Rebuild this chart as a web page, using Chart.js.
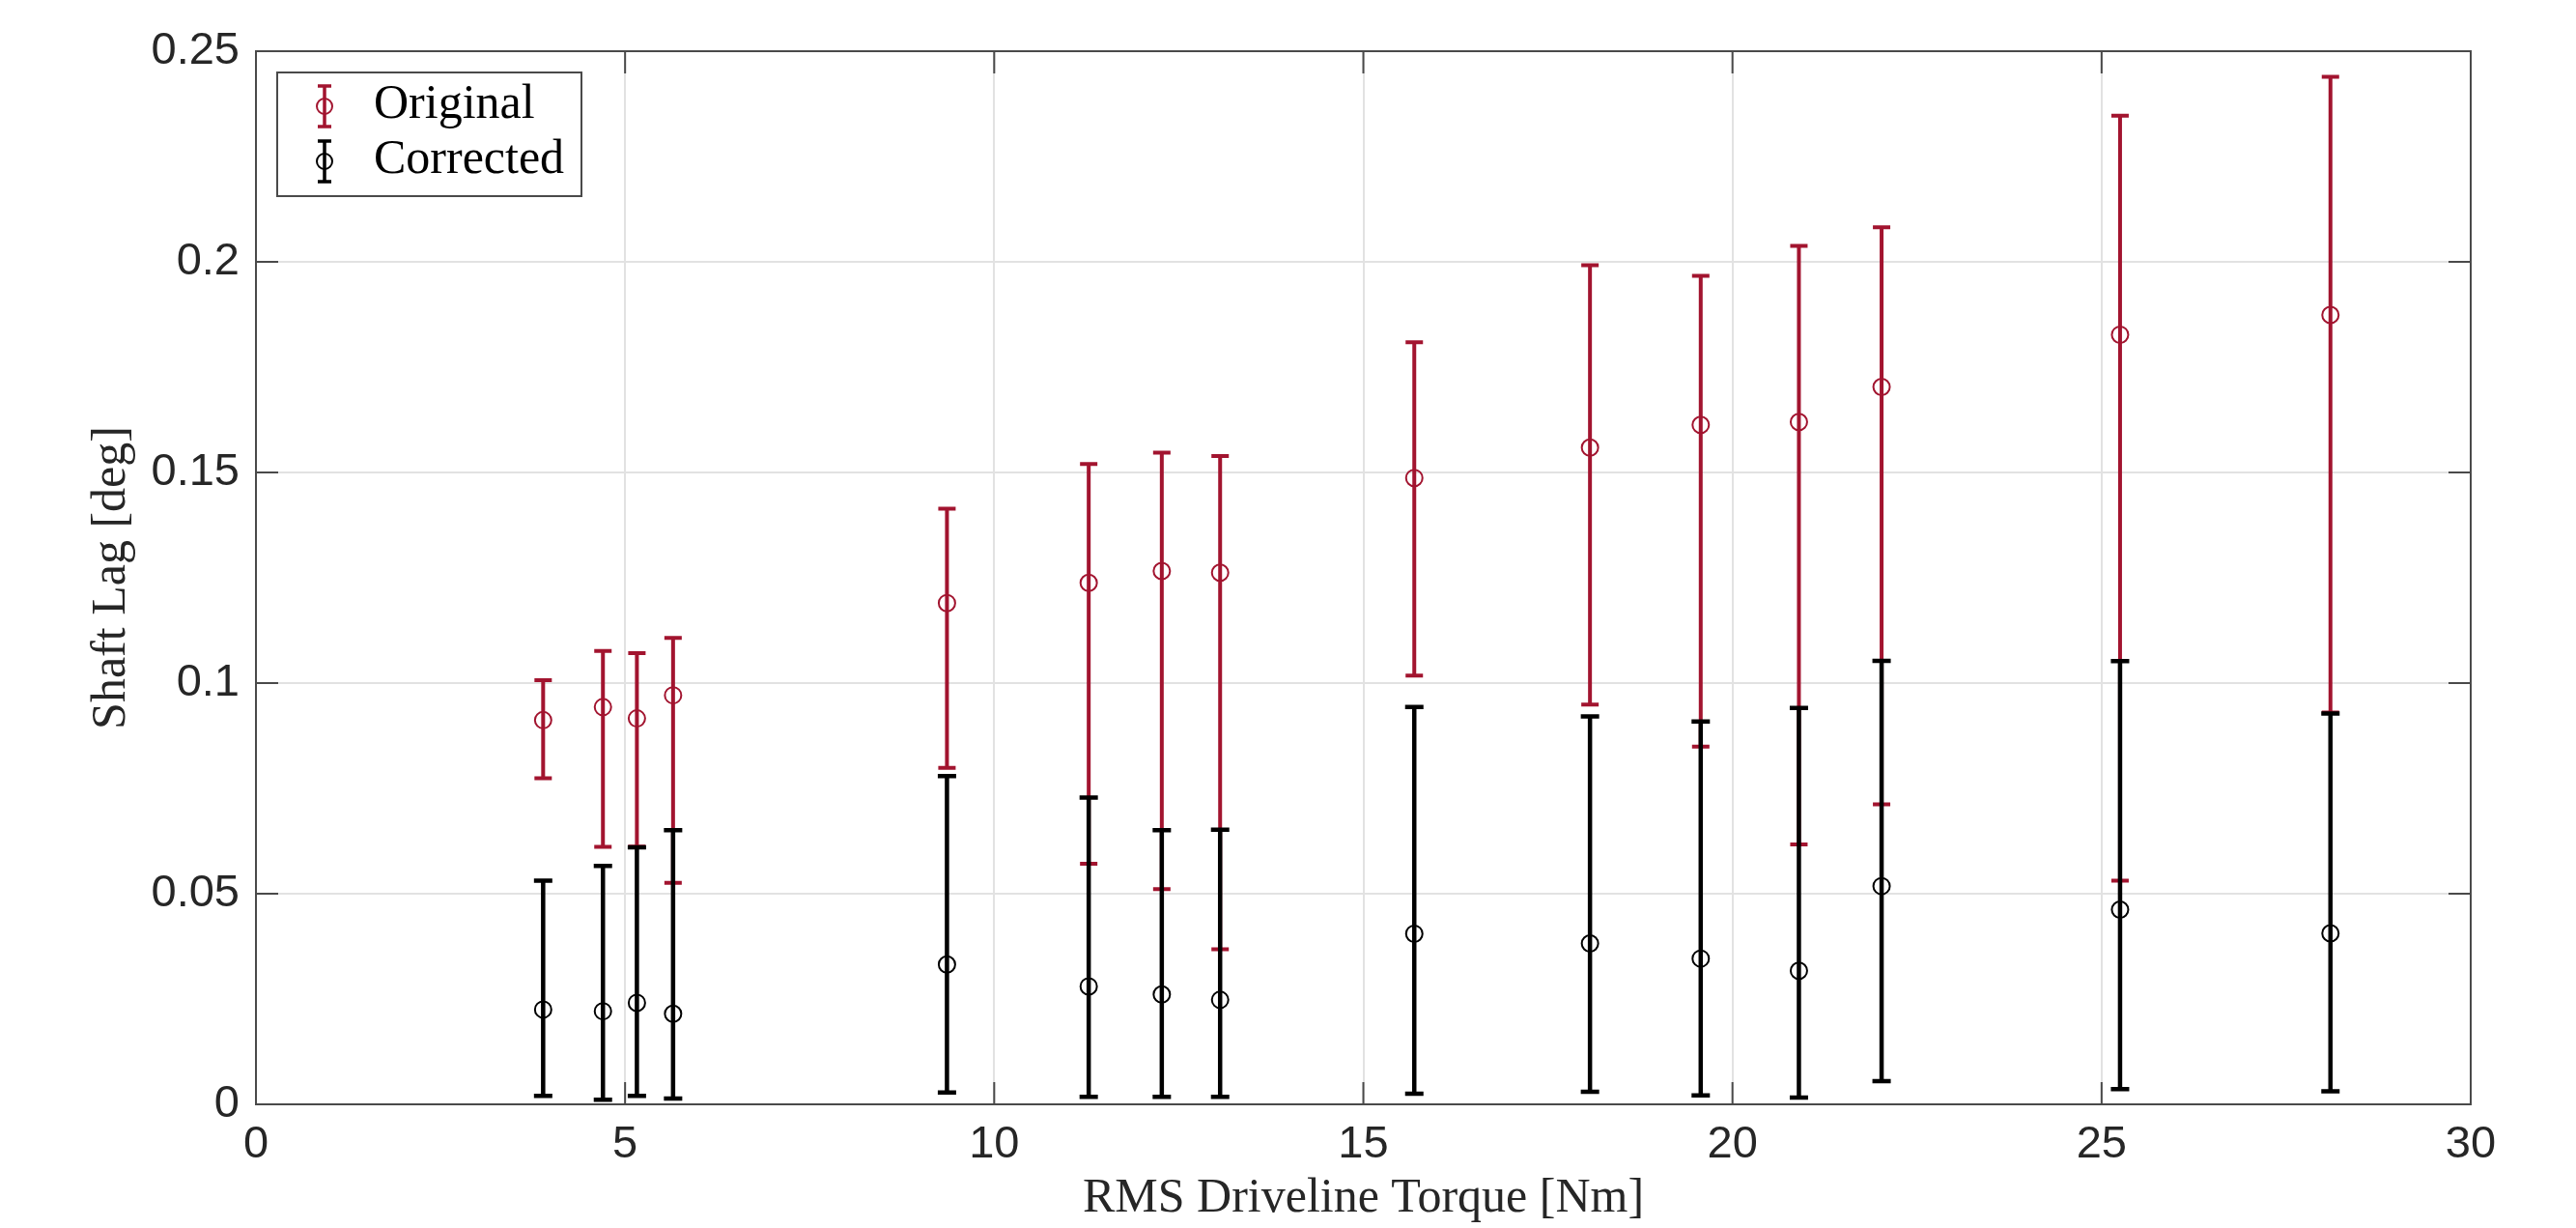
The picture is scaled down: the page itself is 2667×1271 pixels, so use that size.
<!DOCTYPE html>
<html>
<head>
<meta charset="utf-8">
<title>Shaft Lag vs RMS Driveline Torque</title>
<script src="https://cdn.jsdelivr.net/npm/chart.js@4.4.1/dist/chart.umd.min.js"></script>
<style>
  html, body { margin: 0; padding: 0; background: #fff; }
  #wrap { width: 2667px; height: 1271px; }
</style>
</head>
<body>
<div id="wrap"><canvas id="lagChart" width="2667" height="1271"></canvas></div>
<script>
// data
const torque = [3.89, 4.70, 5.16, 5.65, 9.36, 11.28, 12.27, 13.06, 15.69, 18.07, 19.57, 20.90, 22.02, 25.25, 28.10];

const origMean = [0.0912, 0.0943, 0.0916, 0.0971, 0.1190, 0.1238, 0.1266, 0.1262, 0.1487, 0.1559, 0.1613, 0.1620, 0.1703, 0.1827, 0.1874];
const origLow  = [0.0774, 0.0611, 0.0612, 0.0526, 0.0799, 0.0571, 0.0511, 0.0368, 0.1018, 0.0949, 0.0849, 0.0617, 0.0712, 0.0531, 0.0930];
const origHigh = [0.1007, 0.1076, 0.1071, 0.1107, 0.1414, 0.1520, 0.1547, 0.1539, 0.1809, 0.1992, 0.1967, 0.2038, 0.2082, 0.2347, 0.2439];

const corrMean = [0.0225, 0.0221, 0.0241, 0.0215, 0.0332, 0.0280, 0.0261, 0.0248, 0.0405, 0.0382, 0.0346, 0.0317, 0.0518, 0.0462, 0.0406];
const corrLow  = [0.0020, 0.0011, 0.0020, 0.0014, 0.0028, 0.0018, 0.0018, 0.0018, 0.0025, 0.0030, 0.0021, 0.0016, 0.0055, 0.0036, 0.0031];
const corrHigh = [0.0531, 0.0566, 0.0610, 0.0651, 0.0779, 0.0728, 0.0651, 0.0652, 0.0943, 0.0921, 0.0909, 0.0941, 0.1053, 0.1052, 0.0928];

const seriesNames = ["Original", "Corrected"];
const xTicks = [0, 5, 10, 15, 20, 25, 30];
const yTickLabels = ["0", "0.05", "0.1", "0.15", "0.2", "0.25"];

const RED = "#a2142f";
const BLACK = "#000000";
const AXIS_COLOR = "#262626";
const FRAME_COLOR = "#4a4a4a";
const GRID_COLOR = "#e2e2e2";

// error bar styles per dataset index
const barStyle = [
  { color: RED, width: 4, cap: 9 },
  { color: BLACK, width: 4.5, cap: 9.5 },
];

function drawBar(ctx, x, yLo, yHi, st) {
  ctx.save();
  ctx.strokeStyle = st.color;
  ctx.lineWidth = st.width;
  ctx.lineCap = "butt";
  ctx.beginPath();
  ctx.moveTo(x, yLo);
  ctx.lineTo(x, yHi);
  ctx.moveTo(x - st.cap, yLo);
  ctx.lineTo(x + st.cap, yLo);
  ctx.moveTo(x - st.cap, yHi);
  ctx.lineTo(x + st.cap, yHi);
  ctx.stroke();
  ctx.restore();
}

// draws the error bars of a dataset right before its circles
const errorBars = {
  id: "errorBars",
  beforeDatasetDraw(chart, args) {
    const ds = chart.data.datasets[args.index];
    const xs = chart.scales.x, ys = chart.scales.y;
    const ctx = chart.ctx;
    ds.data.forEach((p) => {
      drawBar(ctx, xs.getPixelForValue(p.x), ys.getPixelForValue(p.lo), ys.getPixelForValue(p.hi), barStyle[args.index]);
    });
  },
};

// full box with inward tick marks, MATLAB style
const axesBox = {
  id: "axesBox",
  afterDatasetsDraw(chart) {
    const { ctx, chartArea: a, scales } = chart;
    const tl = 23;
    ctx.save();
    ctx.strokeStyle = FRAME_COLOR;
    ctx.lineWidth = 2;
    ctx.strokeRect(a.left, a.top, a.right - a.left, a.bottom - a.top);
    ctx.beginPath();
    scales.x.ticks.forEach((t) => {
      const px = scales.x.getPixelForValue(t.value);
      ctx.moveTo(px, a.bottom);
      ctx.lineTo(px, a.bottom - tl);
      ctx.moveTo(px, a.top);
      ctx.lineTo(px, a.top + tl);
    });
    scales.y.ticks.forEach((t) => {
      const py = scales.y.getPixelForValue(t.value);
      ctx.moveTo(a.left, py);
      ctx.lineTo(a.left + tl, py);
      ctx.moveTo(a.right, py);
      ctx.lineTo(a.right - tl, py);
    });
    ctx.stroke();
    ctx.restore();
  },
};

// legend box in the upper left corner
const boxLegend = {
  id: "boxLegend",
  afterDraw(chart) {
    const ctx = chart.ctx;
    const a = chart.chartArea;
    const bx = a.left + 22, by = a.top + 22, bw = 315, bh = 128;
    ctx.save();
    ctx.fillStyle = "#fff";
    ctx.fillRect(bx, by, bw, bh);
    ctx.strokeStyle = FRAME_COLOR;
    ctx.lineWidth = 2;
    ctx.strokeRect(bx, by, bw, bh);
    ctx.font = "50px 'Liberation Serif'";
    ctx.textBaseline = "alphabetic";
    ctx.textAlign = "left";
    chart.data.datasets.forEach((ds, i) => {
      const cy = by + 35 + i * 57;
      const gx = bx + 49;
      drawBar(ctx, gx, cy + 21, cy - 21, { color: ds.borderColor, width: 3.5, cap: 7 });
      ctx.beginPath();
      ctx.lineWidth = 2;
      ctx.strokeStyle = ds.borderColor;
      ctx.arc(gx, cy, 8, 0, Math.PI * 2);
      ctx.stroke();
      ctx.fillStyle = "#000";
      ctx.fillText(ds.label, bx + 100, cy + 12);
    });
    ctx.restore();
  },
};

function pts(mean, lo, hi) {
  return torque.map((x, i) => ({ x: x, y: mean[i], lo: lo[i], hi: hi[i] }));
}

new Chart(document.getElementById("lagChart"), {
  type: "scatter",
  data: {
    datasets: [
      {
        label: seriesNames[0],
        data: pts(origMean, origLow, origHigh),
        borderColor: RED,
        backgroundColor: "rgba(0,0,0,0)",
        pointRadius: 8.5,
        pointBorderWidth: 2,
        order: 2,
      },
      {
        label: seriesNames[1],
        data: pts(corrMean, corrLow, corrHigh),
        borderColor: BLACK,
        backgroundColor: "rgba(0,0,0,0)",
        pointRadius: 8.5,
        pointBorderWidth: 2,
        order: 1,
      },
    ],
  },
  options: {
    responsive: false,
    devicePixelRatio: 1,
    animation: false,
    events: [],
    layout: { padding: { top: 53, right: 109, left: 0, bottom: 0 } },
    plugins: {
      legend: { display: false },
      tooltip: { enabled: false },
    },
    scales: {
      x: {
        type: "linear",
        min: 0,
        max: 30,
        afterBuildTicks: (s) => { s.ticks = xTicks.map((v) => ({ value: v })); },
        afterFit: (s) => { s.height = 128; },
        ticks: {
          color: AXIS_COLOR,
          font: { family: "'Liberation Sans', Arial, sans-serif", size: 47 },
          padding: 14,
          maxRotation: 0,
          callback: (v) => String(v),
        },
        grid: { color: GRID_COLOR, lineWidth: 2, drawTicks: false },
        border: { display: false },
        title: {
          display: true,
          text: "RMS Driveline Torque [Nm]",
          color: AXIS_COLOR,
          font: { family: "'Liberation Serif', serif", size: 50 },
          padding: { top: 0, bottom: 0 },
        },
      },
      y: {
        min: 0,
        max: 0.25,
        afterBuildTicks: (s) => { s.ticks = yTickLabels.map((t) => ({ value: parseFloat(t) })); },
        afterFit: (s) => { s.width = 265; },
        ticks: {
          color: AXIS_COLOR,
          font: { family: "'Liberation Sans', Arial, sans-serif", size: 47 },
          padding: 17,
          callback: (v, i) => yTickLabels[i],
        },
        grid: { color: GRID_COLOR, lineWidth: 2, drawTicks: false },
        border: { display: false },
        title: {
          display: true,
          text: "Shaft Lag [deg]",
          color: AXIS_COLOR,
          font: { family: "'Liberation Serif', serif", size: 50 },
          padding: { top: 86, bottom: 0 },
        },
      },
    },
  },
  plugins: [errorBars, axesBox, boxLegend],
});
</script>
</body>
</html>
